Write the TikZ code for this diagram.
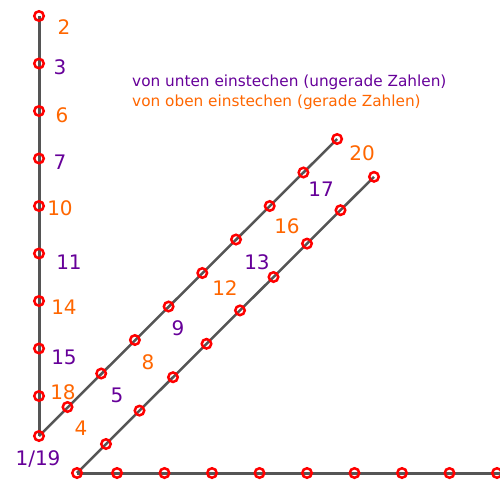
\documentclass[tikz,border=0pt]{standalone}
\usepackage{fontspec}
\setmainfont{DejaVu Sans}
\definecolor{orn}{RGB}{255,102,0}
\definecolor{pur}{RGB}{102,0,153}
\definecolor{ln}{RGB}{85,85,85}
\begin{document}
\begin{tikzpicture}[x=1pt,y=-1pt,
  hole/.style={circle,draw=red,line width=2.5pt,minimum size=9.5pt,inner sep=0pt},
  thread/.style={draw=ln,line width=3pt},
  dthread/.style={draw=ln,line width=2.5pt},
  oddnum/.style={text=pur,font=\fontsize{20}{20}\selectfont,inner sep=0pt},
  evennum/.style={text=orn,font=\fontsize{20}{20}\selectfont,inner sep=0pt},
  legend/.style={font=\fontsize{15.3}{15.3}\selectfont,anchor=base west,inner sep=0pt}]
\useasboundingbox (0,0) rectangle (500,479);
% points
\foreach \i in {0,...,8} \coordinate (v\i) at (39,{16+47.5*\i});
\coordinate (A) at (39,436);
\coordinate (B) at (77,473);
\foreach \i in {1,...,9} \coordinate (h\i) at ({117+47.5*(\i-1)},473);
\foreach \i in {1,...,9} \coordinate (u\i) at ({67.5+33.7*(\i-1)},{407-33.5*(\i-1)});
\foreach \i in {1,...,9} \coordinate (l\i) at ({106+33.5*(\i-1)},{444-33.4*(\i-1)});
\coordinate (hend) at (500,473);
% threads
\draw[thread] (v0) -- (A);
\draw[thread] (B) -- (hend);
\draw[dthread] (A) -- (u9);
\draw[dthread] (B) -- (l9);
% holes
\foreach \i in {0,...,8} \node[hole] (hv\i) at (v\i) {};
\node[hole] (hA) at (A) {};
\node[hole] (hB) at (B) {};
\foreach \i in {1,...,9} \node[hole] (hh\i) at (h\i) {};
\foreach \i in {1,...,9} \node[hole] (hu\i) at (u\i) {};
\foreach \i in {1,...,9} \node[hole] (hl\i) at (l\i) {};
% labels
\node[evennum] (n2) at (64,27) {2};
\node[oddnum] (n3) at (60,67) {3};
\node[evennum] (n6) at (62,115) {6};
\node[oddnum] (n7) at (60,162) {7};
\node[evennum] (n10) at (60,208) {10};
\node[oddnum] (n11) at (69,262) {11};
\node[evennum] (n14) at (64,307) {14};
\node[oddnum] (n15) at (64,357) {15};
\node[evennum] (n18) at (63,392) {18};
\node[oddnum] (n1) at (38,459) {1/19};
\node[evennum] (n4) at (81,428) {4};
\node[oddnum] (n5) at (117,395) {5};
\node[evennum] (n8) at (148,362) {8};
\node[oddnum] (n9) at (178,328) {9};
\node[evennum] (n12) at (225,288) {12};
\node[oddnum] (n13) at (257,262) {13};
\node[evennum] (n16) at (287,226) {16};
\node[oddnum] (n17) at (321,189) {17};
\node[evennum] (n20) at (362,153) {20};
% legend
\node[legend,text=pur] (leg1) at (132,86.5) {von unten einstechen (ungerade Zahlen)};
\node[legend,text=orn] (leg2) at (132,106) {von oben einstechen (gerade Zahlen)};
\end{tikzpicture}
\end{document}
